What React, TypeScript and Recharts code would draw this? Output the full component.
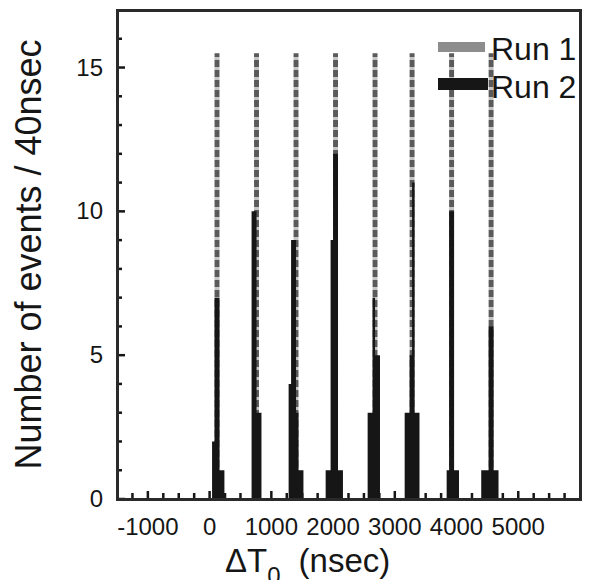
import { ComposedChart, Area, XAxis, YAxis } from "recharts";

// histogram bins, 40 nsec wide, given by their left edge
const binWidth = 40;

const run1Starts = [80, 120, 720, 760, 1360, 1400, 2000, 2040, 2640, 2680, 3240, 3280, 3880, 3920, 4520, 4560];
const run1Counts = [15.5, 15.5, 15.5, 15.5, 15.5, 15.5, 15.5, 15.5, 15.5, 15.5, 15.5, 15.5, 15.5, 15.5, 15.5, 15.5];

const run2Starts = [
  40, 80, 120, 160, 200,
  680, 720, 760, 800,
  1280, 1320, 1360, 1400, 1440, 1480,
  1880, 1920, 1960, 2000, 2040, 2080, 2120,
  2560, 2600, 2640, 2680, 2720,
  3160, 3200, 3240, 3280, 3320, 3360,
  3840, 3880, 3920, 3960, 4000,
  4400, 4440, 4480, 4520, 4560, 4600, 4640,
];
const run2Counts = [
  2, 7, 7, 1, 1,
  10, 10, 3, 3,
  4, 9, 9, 3, 1, 1,
  1, 1, 9, 12, 12, 1, 1,
  3, 3, 7, 5, 5,
  3, 3, 5, 11, 3, 3,
  1, 10, 10, 1, 1,
  1, 1, 1, 6, 6, 1, 1,
];

const xDomain = [-1500, 6000];
const xLabels = [-1000, 0, 1000, 2000, 3000, 4000, 5000];
const xMinor = [-1250, -750, -500, -250, 250, 500, 750, 1250, 1500, 1750, 2250, 2500, 2750, 3250, 3500, 3750, 4250, 4500, 4750, 5250, 5500, 5750];
const yLabels = [0, 5, 10, 15];
const yMinor = [1, 2, 3, 4, 6, 7, 8, 9, 11, 12, 13, 14, 16];

const FONT = "'Liberation Sans', Arial, Helvetica, sans-serif";
const INK = "#161616";

const M = { top: 10, right: 10, left: 0, bottom: 0 };
const Y_AXIS_W = 117;
const X_AXIS_H = 89;
const X0 = M.left + Y_AXIS_W;
const X1 = 590 - M.right;
const Y0 = M.top;
const Y1 = 588 - M.bottom - X_AXIS_H;
const FW = 3; // frame line width

// stepAfter table: every bin edge carries the count of the bin starting there
function buildTable() {
  const edges = new Set<number>([xDomain[0], xDomain[1]]);
  run1Starts.concat(run2Starts).forEach((s) => {
    edges.add(s);
    edges.add(s + binWidth);
  });
  return Array.from(edges)
    .sort((a, b) => a - b)
    .map((x) => {
      const i1 = run1Starts.indexOf(x);
      const i2 = run2Starts.indexOf(x);
      return { x, run1: i1 >= 0 ? run1Counts[i1] : 0, run2: i2 >= 0 ? run2Counts[i2] : 0 };
    });
}

const data = buildTable();

const TICK_MARGIN = 12;

function XTick(props: any) {
  const { x, y, payload } = props;
  const major = xLabels.includes(payload.value);
  const axisY = y - TICK_MARGIN;
  return (
    <g>
      <line x1={x} x2={x} y1={axisY} y2={axisY - (major ? 8 : 6)} stroke={INK} strokeWidth={2.5} />
      {major && (
        <text x={x} y={axisY + 36} textAnchor="middle" fontSize={24} fontFamily={FONT} fill={INK}>
          {payload.value}
        </text>
      )}
    </g>
  );
}

function YTick(props: any) {
  const { x, y, payload } = props;
  const major = yLabels.includes(payload.value);
  const axisX = x + TICK_MARGIN;
  return (
    <g>
      <line x1={axisX} x2={axisX + (major ? 8 : 5)} y1={y} y2={y} stroke={INK} strokeWidth={2.5} />
      {major && (
        <text x={axisX - 14} y={y + 8} textAnchor="end" fontSize={24} fontFamily={FONT} fill={INK}>
          {payload.value}
        </text>
      )}
    </g>
  );
}

export default function App() {
  return (
    <div style={{ position: "relative", width: 590, height: 588, margin: -8, background: "#fff" }}>
      <ComposedChart width={590} height={588} data={data} margin={M}>
        <defs>
          <pattern id="run1Dash" patternUnits="userSpaceOnUse" width={12} height={10}>
            <rect x={0} y={0} width={12} height={7} fill="#5a5a5a" />
            <rect x={0} y={7} width={12} height={3} fill="#c4c4c4" />
          </pattern>
        </defs>
        <XAxis
          dataKey="x"
          type="number"
          domain={xDomain}
          allowDataOverflow
          ticks={[...xLabels, ...xMinor].sort((a, b) => a - b)}
          interval={0}
          axisLine={false}
          tickSize={0}
          tickMargin={TICK_MARGIN}
          tick={<XTick />}
          height={X_AXIS_H}
          label={{
            content: ({ viewBox }: any) => (
              <text x={viewBox.x + 108} y={viewBox.y + 73} fontSize={33} fontFamily={FONT} fill={INK}>
                <tspan>ΔT</tspan>
                <tspan fontSize={24} dy={12}>0</tspan>
                <tspan dx={18} dy={-12}>(nsec)</tspan>
              </text>
            ),
          }}
        />
        <YAxis
          type="number"
          domain={[0, 17]}
          allowDataOverflow
          ticks={[...yLabels, ...yMinor].sort((a, b) => a - b)}
          interval={0}
          axisLine={false}
          tickSize={0}
          tickMargin={TICK_MARGIN}
          tick={<YTick />}
          width={Y_AXIS_W}
          label={{
            content: ({ viewBox }: any) => (
              <text
                transform={`translate(${viewBox.x + 28}, ${viewBox.y + viewBox.height / 2}) rotate(-90)`}
                textAnchor="middle"
                dominantBaseline="central"
                fontSize={36}
                fontFamily={FONT}
                fill={INK}
              >
                Number of events / 40nsec
              </text>
            ),
          }}
        />
        <Area
          type="stepAfter"
          dataKey="run1"
          stroke="none"
          fill="url(#run1Dash)"
          fillOpacity={1}
          baseValue={0}
          dot={false}
          activeDot={false}
          isAnimationActive={false}
        />
        <Area
          type="stepAfter"
          dataKey="run2"
          stroke="none"
          fill={INK}
          fillOpacity={1}
          baseValue={0}
          dot={false}
          activeDot={false}
          isAnimationActive={false}
        />
      </ComposedChart>
      {/* plot frame as a bordered box, legend on top */}
      <div
        style={{
          position: "absolute",
          left: X0 - FW / 2,
          top: Y0 - FW / 2,
          width: X1 - X0 - FW,
          height: Y1 - Y0 - FW,
          border: `${FW}px solid #2a2a2a`,
          pointerEvents: "none",
        }}
      />
      <svg width={590} height={588} style={{ position: "absolute", left: 0, top: 0, pointerEvents: "none" }}>
        <rect x={438} y={42} width={47} height={10} fill="#8d8d8d" />
        <rect x={438} y={78} width={50} height={12} fill={INK} />
        <text x={491} y={60} fontSize={32} fontFamily={FONT} fill={INK}>Run 1</text>
        <text x={491} y={98} fontSize={32} fontFamily={FONT} fill={INK}>Run 2</text>
      </svg>
    </div>
  );
}
